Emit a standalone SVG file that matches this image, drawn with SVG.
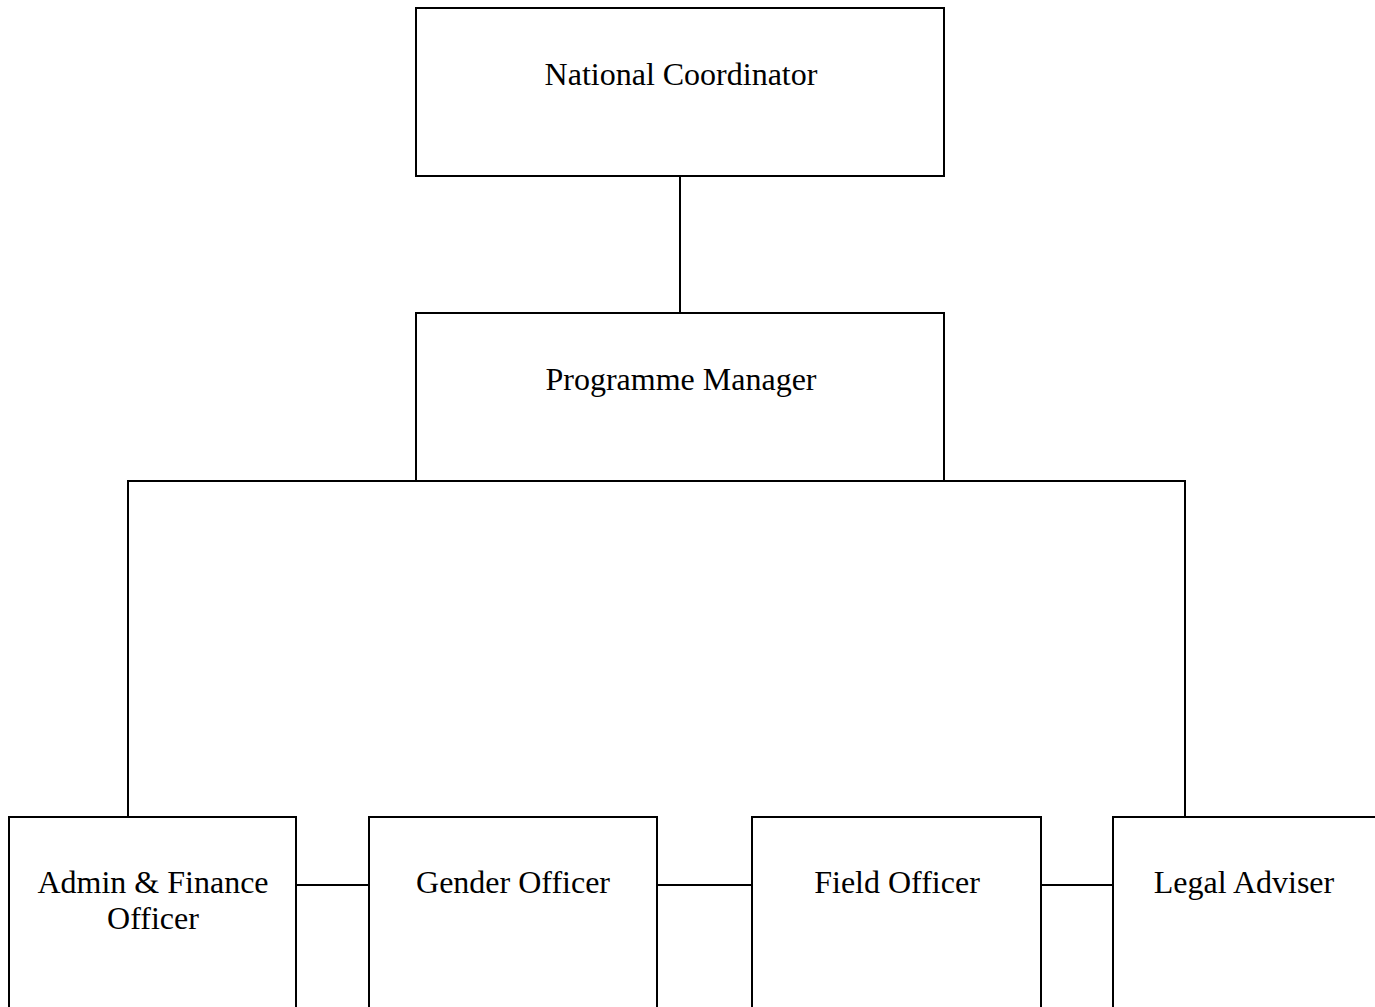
<svg xmlns="http://www.w3.org/2000/svg" width="1375" height="1007" viewBox="0 0 1375 1007">
<style>
.box{fill:#fff;stroke:#000;stroke-width:2}
.ln{stroke:#000;stroke-width:2;fill:none}
text{font-family:"Liberation Serif","Times New Roman",serif;font-size:32px;fill:#000;text-anchor:middle}
</style>
<rect width="1375" height="1007" fill="#fff"/>
<g id="connectors">
<line class="ln" x1="680" y1="176" x2="680" y2="313"/>
<polyline class="ln" points="128,817 128,481 1185,481 1185,817"/>
<line class="ln" x1="296" y1="885" x2="369" y2="885"/>
<line class="ln" x1="657" y1="885" x2="752" y2="885"/>
<line class="ln" x1="1041" y1="885" x2="1113" y2="885"/>
</g>
<g id="national-coordinator">
<rect class="box" x="416" y="8" width="528" height="168"/>
<text x="681" y="85">National Coordinator</text>
</g>
<g id="programme-manager">
<rect class="box" x="416" y="313" width="528" height="168"/>
<text x="681" y="390">Programme Manager</text>
</g>
<g id="admin-finance-officer">
<rect class="box" x="9" y="817" width="287" height="200"/>
<text x="153" y="893">Admin &amp; Finance</text>
<text x="153" y="929">Officer</text>
</g>
<g id="gender-officer">
<rect class="box" x="369" y="817" width="288" height="200"/>
<text x="513" y="893">Gender Officer</text>
</g>
<g id="field-officer">
<rect class="box" x="752" y="817" width="289" height="200"/>
<text x="897" y="893">Field Officer</text>
</g>
<g id="legal-adviser">
<rect class="box" x="1113" y="817" width="280" height="200"/>
<text x="1244" y="893">Legal Adviser</text>
</g>
</svg>
